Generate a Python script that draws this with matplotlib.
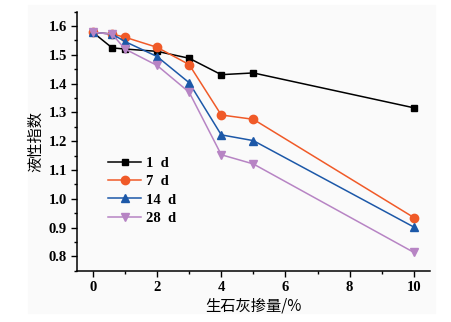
import numpy as np
import matplotlib.pyplot as plt
from matplotlib.patches import Rectangle
from matplotlib.ticker import MultipleLocator

# 生石灰掺量 (%) 与不同龄期的液性指数
x = np.array([0, 0.6, 1, 2, 3, 4, 5, 10])
li_1d = [1.578, 1.524, 1.520, 1.512, 1.488, 1.431, 1.437, 1.316]
li_7d = [1.578, 1.572, 1.561, 1.526, 1.466, 1.291, 1.276, 0.935]
li_14d = [1.578, 1.572, 1.546, 1.494, 1.403, 1.222, 1.202, 0.902]
li_28d = [1.578, 1.572, 1.520, 1.463, 1.370, 1.153, 1.121, 0.814]
labels = ['1  d', '7  d', '14  d', '28  d']

plt.rcParams['font.family'] = ['Liberation Serif', 'Noto Sans CJK SC']

fig = plt.figure(figsize=(4.52, 3.22), dpi=100)
# light grey panel behind the plot
fig.add_artist(Rectangle((28/452, 1 - 313/322), 407/452, 308/322,
                         transform=fig.transFigure, color='#fafafa', zorder=-10))
ax = fig.add_axes([0.170, 0.159, 0.781, 0.805])
ax.set_facecolor('none')

styles = [('#000000', 's', 5), ('#f05a28', 'o', 6), ('#1c58a8', '^', 6), ('#b784c4', 'v', 6)]
for y, lab, (c, m, ms) in zip([li_1d, li_7d, li_14d, li_28d], labels, styles):
    ax.plot(x, y, color=c, marker=m, markersize=ms, lw=1.1, label=lab)

ax.set_xlim(-0.5, 10.5)
ax.set_ylim(0.75, 1.65)
ax.xaxis.set_major_locator(MultipleLocator(2))
ax.xaxis.set_minor_locator(MultipleLocator(1))
ax.yaxis.set_major_locator(MultipleLocator(0.1))
ax.yaxis.set_minor_locator(MultipleLocator(0.05))
ax.yaxis.set_major_formatter(plt.FuncFormatter(lambda v, p: f'{v:.1f}'))
ax.tick_params(which='major', direction='out', length=4, width=1, labelsize=10.5, pad=3)
ax.tick_params(which='minor', direction='out', length=2.5, width=1)
for t in ax.get_xticklabels() + ax.get_yticklabels():
    t.set_fontweight('bold')
for s in ['top', 'right']:
    ax.spines[s].set_visible(False)
for s in ['left', 'bottom']:
    ax.spines[s].set_linewidth(1.1)

ax.set_xlabel('生石灰掺量/%', fontsize=11, family=['Noto Sans CJK SC'], labelpad=3)
ax.set_ylabel('液性指数', fontsize=11, family=['Noto Sans CJK SC'], labelpad=3)

ax.legend(loc='upper left', bbox_to_anchor=(0.088, 0.44), frameon=False,
          prop={'size': 10.5, 'weight': 'bold'}, borderpad=0, borderaxespad=0,
          handlelength=2.3, handletextpad=0.3, labelspacing=0.35)

fig.savefig('out.png', dpi=100, facecolor='white')
